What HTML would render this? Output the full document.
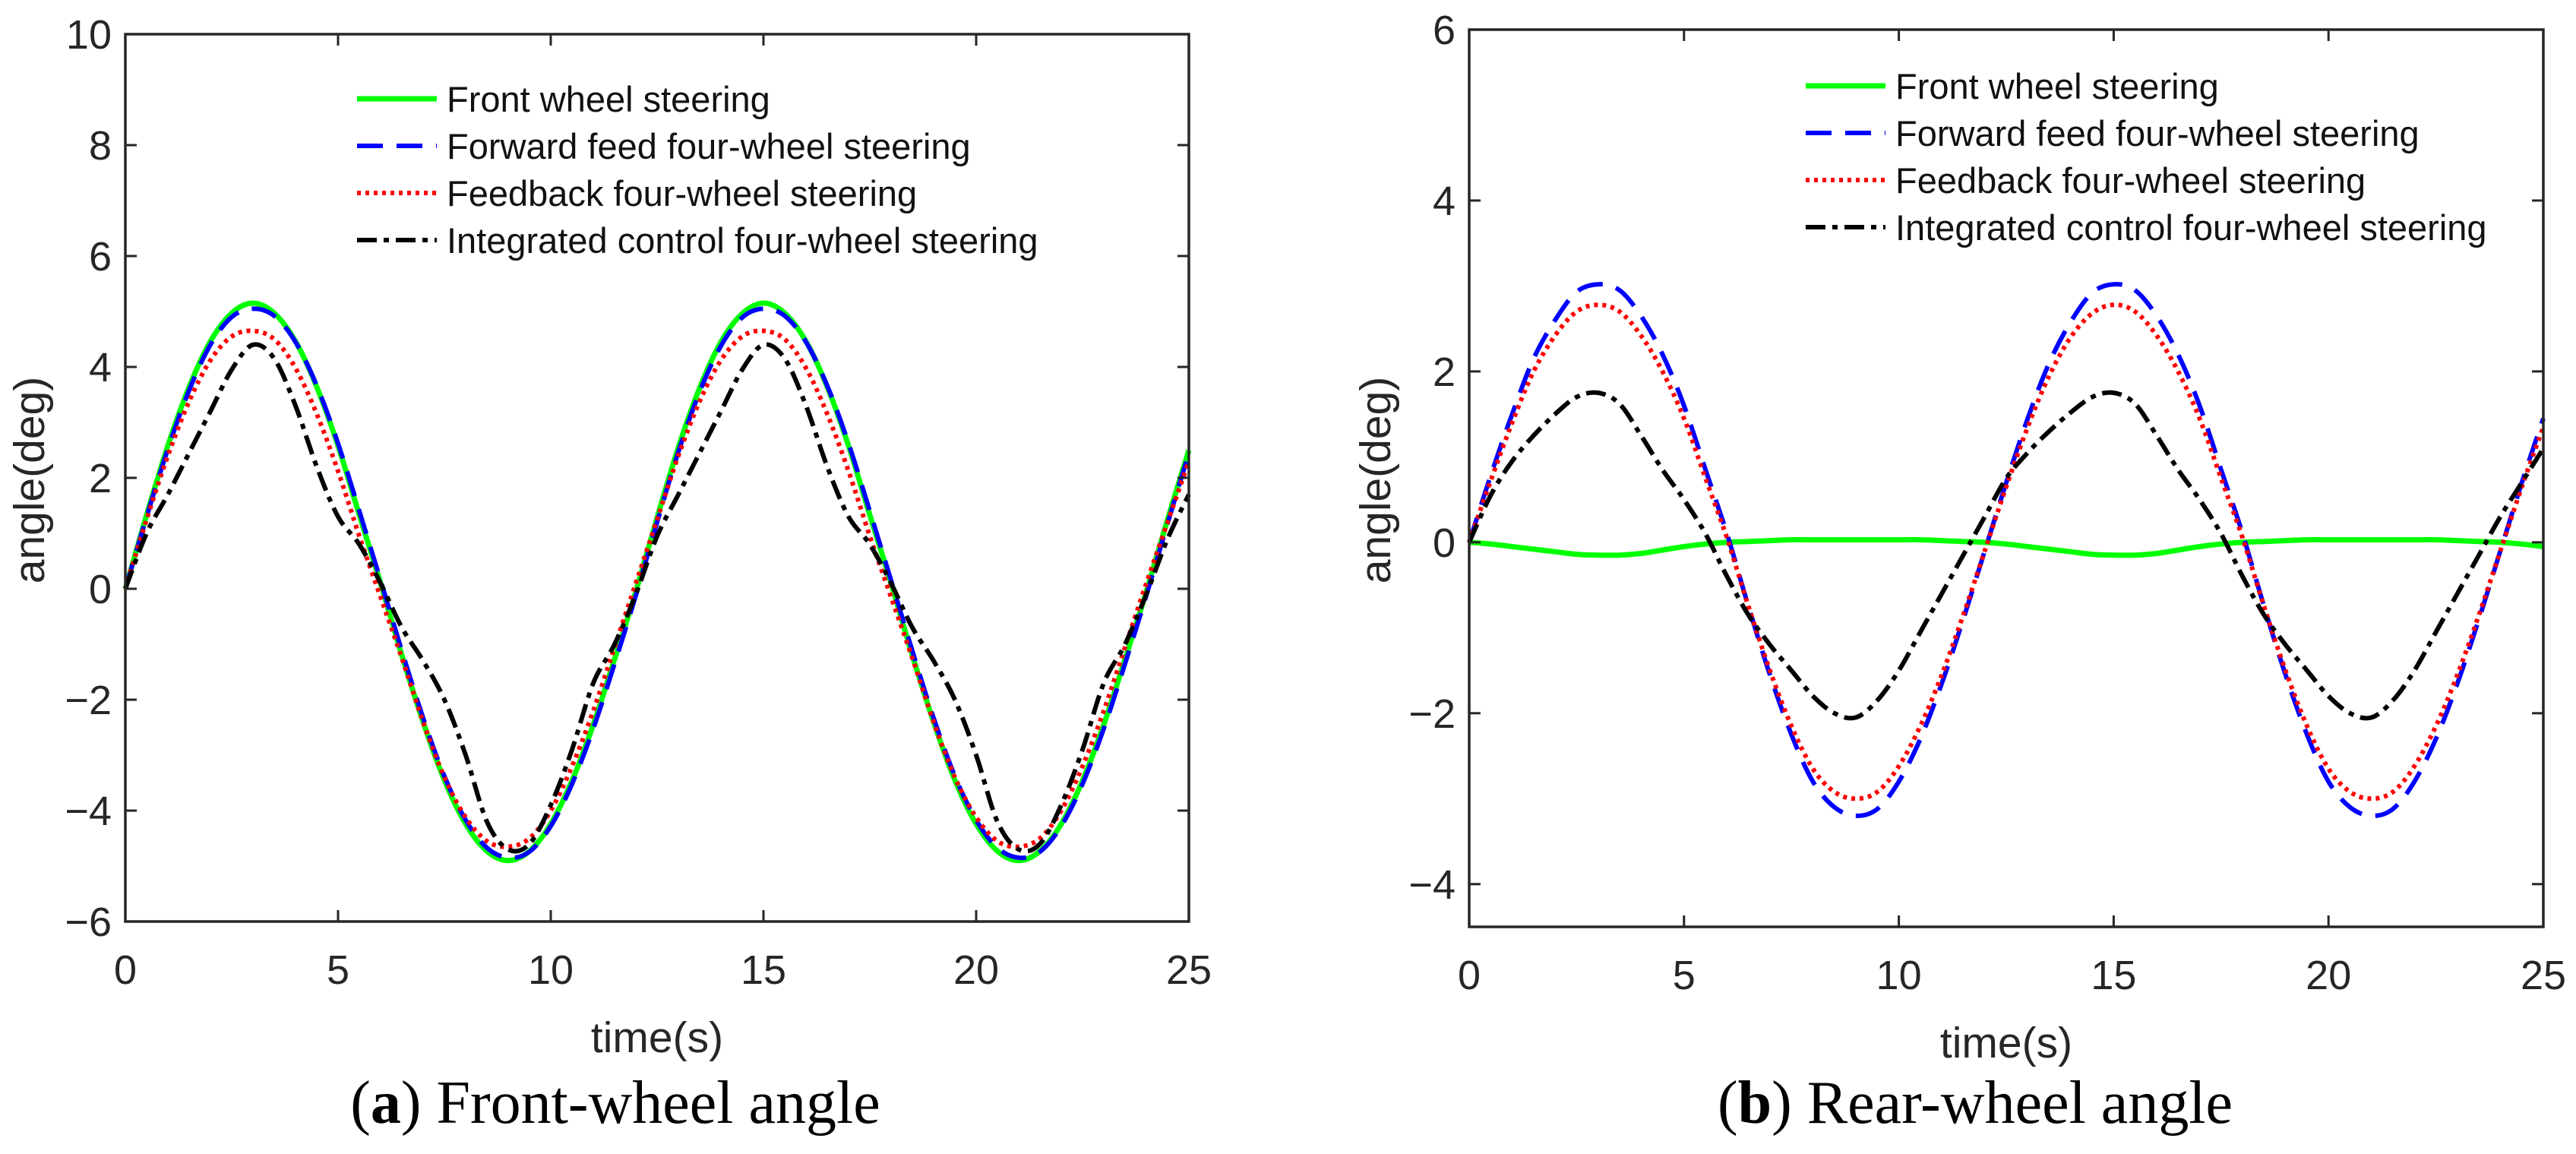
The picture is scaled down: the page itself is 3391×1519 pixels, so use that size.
<!DOCTYPE html>
<html><head><meta charset="utf-8"><style>
html,body{margin:0;padding:0;background:#fff;}
svg{display:block;}
</style></head><body>
<svg id="fig" width="3391" height="1519" viewBox="0 0 3391 1519" xmlns="http://www.w3.org/2000/svg">
<rect width="3391" height="1519" fill="#fff"/>
</svg>
<script>
const times = [];
for (let i = 0; i <= 50; i++) times.push(i * 0.5);
const xTicks = [0,5,10,15,20,25];
const yTicksA = [-6,-4,-2,0,2,4,6,8,10];
const yTicksB = [-4,-2,0,2,4,6];
const seriesNames = ["Front wheel steering","Forward feed four-wheel steering","Feedback four-wheel steering","Integrated control four-wheel steering"];
const frontA = [0,1.33,2.58,3.64,4.46,4.97,5.15,4.97,4.46,3.64,2.58,1.33,0.1,-1.2,-2.4,-3.45,-4.24,-4.73,-4.9,-4.73,-4.24,-3.46,-2.45,-1.27,-0.05,1.28,2.55,3.62,4.45,4.96,5.15,4.97,4.46,3.64,2.58,1.33,0.1,-1.2,-2.4,-3.45,-4.24,-4.73,-4.9,-4.73,-4.24,-3.46,-2.45,-1.27,-0.05,1.25,2.5];
const forwardA = [0,1.3,2.52,3.58,4.4,4.9,5.05,4.92,4.45,3.66,2.62,1.4,0.15,-1.12,-2.33,-3.38,-4.17,-4.67,-4.85,-4.74,-4.28,-3.52,-2.52,-1.35,-0.12,1.2,2.47,3.55,4.38,4.89,5.05,4.92,4.45,3.66,2.62,1.4,0.15,-1.12,-2.33,-3.38,-4.17,-4.67,-4.85,-4.74,-4.28,-3.52,-2.52,-1.35,-0.12,1.18,2.45];
const feedbackA = [0,1.25,2.4,3.38,4.12,4.55,4.65,4.5,3.98,3.15,2.12,0.95,-0.15,-1.25,-2.4,-3.4,-4.12,-4.55,-4.65,-4.5,-4.0,-3.2,-2.2,-1.05,0.1,1.25,2.4,3.38,4.12,4.55,4.65,4.5,3.98,3.15,2.12,0.95,-0.15,-1.25,-2.4,-3.4,-4.12,-4.55,-4.65,-4.5,-4.0,-3.2,-2.2,-1.05,0.1,1.2,2.3];
const integratedA = [0,1.0,1.7,2.45,3.2,3.95,4.4,4.15,3.3,2.2,1.3,0.8,0.1,-0.7,-1.3,-2.0,-3.0,-4.2,-4.7,-4.6,-3.9,-2.9,-1.7,-1.0,-0.1,0.95,1.7,2.45,3.2,3.95,4.4,4.15,3.3,2.2,1.3,0.8,0.1,-0.7,-1.3,-2.0,-3.0,-4.2,-4.7,-4.6,-3.9,-2.9,-1.7,-1.0,-0.1,0.9,1.7];
const frontB = [0,-0.02,-0.05,-0.08,-0.11,-0.14,-0.15,-0.15,-0.13,-0.09,-0.05,-0.02,0,0.01,0.02,0.03,0.03,0.03,0.03,0.03,0.03,0.03,0.02,0.01,0,-0.02,-0.05,-0.08,-0.11,-0.14,-0.15,-0.15,-0.13,-0.09,-0.05,-0.02,0,0.01,0.02,0.03,0.03,0.03,0.03,0.03,0.03,0.03,0.02,0.01,0,-0.02,-0.05];
const forwardB = [0,0.78,1.5,2.15,2.6,2.93,3.02,2.95,2.65,2.2,1.6,0.85,0.1,-0.75,-1.55,-2.25,-2.8,-3.1,-3.2,-3.12,-2.8,-2.3,-1.65,-0.9,-0.1,0.7,1.45,2.1,2.58,2.92,3.02,2.95,2.65,2.2,1.6,0.85,0.1,-0.75,-1.55,-2.25,-2.8,-3.1,-3.2,-3.12,-2.8,-2.3,-1.65,-0.9,-0.1,0.7,1.45];
const feedbackB = [0,0.72,1.4,2.0,2.42,2.7,2.78,2.7,2.42,2.0,1.45,0.75,0.05,-0.75,-1.5,-2.15,-2.65,-2.92,-3.0,-2.92,-2.62,-2.15,-1.55,-0.85,-0.1,0.65,1.35,1.95,2.4,2.68,2.78,2.7,2.42,2.0,1.45,0.75,0.05,-0.75,-1.5,-2.15,-2.65,-2.92,-3.0,-2.92,-2.62,-2.15,-1.55,-0.85,-0.1,0.65,1.35];
const integratedB = [0,0.55,0.95,1.25,1.5,1.7,1.75,1.62,1.25,0.85,0.5,0.1,-0.4,-0.85,-1.2,-1.5,-1.8,-2.0,-2.05,-1.85,-1.5,-1.05,-0.6,-0.15,0.3,0.75,1.05,1.3,1.52,1.7,1.75,1.62,1.25,0.85,0.5,0.1,-0.4,-0.85,-1.2,-1.5,-1.8,-2.0,-2.05,-1.85,-1.5,-1.05,-0.6,-0.15,0.3,0.7,1.1];

const NS = "http://www.w3.org/2000/svg";
const svg = document.getElementById('fig');
function mk(tag, attrs, parent) {
  const e = document.createElementNS(NS, tag);
  for (const k in attrs) e.setAttribute(k, attrs[k]);
  (parent || svg).appendChild(e);
  return e;
}
const styles = [
  {stroke:"#00ff00", w:7, dash:""},
  {stroke:"#0000ff", w:6, dash:"34 18"},
  {stroke:"#ff0000", w:6, dash:"5 6"},
  {stroke:"#000000", w:6, dash:"26 9 7 9"}
];
function smoothPath(pts) {
  let d = "M" + pts[0][0].toFixed(1) + "," + pts[0][1].toFixed(1);
  for (let i = 0; i < pts.length - 1; i++) {
    const p0 = pts[Math.max(0, i-1)], p1 = pts[i], p2 = pts[i+1], p3 = pts[Math.min(pts.length-1, i+2)];
    const c1x = p1[0] + (p2[0]-p0[0])/6, c1y = p1[1] + (p2[1]-p0[1])/6;
    const c2x = p2[0] - (p3[0]-p1[0])/6, c2y = p2[1] - (p3[1]-p1[1])/6;
    d += " C" + c1x.toFixed(1)+","+c1y.toFixed(1)+" "+c2x.toFixed(1)+","+c2y.toFixed(1)+" "+p2[0].toFixed(1)+","+p2[1].toFixed(1);
  }
  return d;
}
function drawPanel(cfg) {
  const g = mk('g', {});
  
  
  const X = v => cfg.x0 + (v - 0) / 25 * (cfg.x1 - cfg.x0);
  const Y = v => cfg.yTop + (cfg.yMax - v) / (cfg.yMax - cfg.yMin) * (cfg.yBot - cfg.yTop);
  cfg.series.forEach((arr, si) => {
    const pts = arr.map((v, i) => [X(times[i]), Y(v)]);
    const p = mk('path', {d: smoothPath(pts), fill:"none", stroke:styles[si].stroke, "stroke-width":styles[si].w, "stroke-dasharray":styles[si].dash, "stroke-linejoin":"round"}, g);
    
    
  });
  const box = mk('rect', {x:cfg.x0, y:cfg.yTop, width:cfg.x1-cfg.x0, height:cfg.yBot-cfg.yTop, fill:"none", stroke:"#262626", "stroke-width":3.5}, g);
  
  
  const tl = 15;
  xTicks.forEach(t => {
    const x = X(t);
    mk('line', {x1:x, x2:x, y1:cfg.yBot, y2:cfg.yBot-tl, stroke:"#262626","stroke-width":3}, g);
    mk('line', {x1:x, x2:x, y1:cfg.yTop, y2:cfg.yTop+tl, stroke:"#262626","stroke-width":3}, g);
    const tx = mk('text', {x:x, y:cfg.yBot+82, "text-anchor":"middle", "font-size":54, fill:"#262626"}, g);
    tx.textContent = t;
    
    
  });
  cfg.yTicks.forEach(t => {
    const y = Y(t);
    mk('line', {x1:cfg.x0, x2:cfg.x0+tl, y1:y, y2:y, stroke:"#262626","stroke-width":3}, g);
    mk('line', {x1:cfg.x1, x2:cfg.x1-tl, y1:y, y2:y, stroke:"#262626","stroke-width":3}, g);
    const ty = mk('text', {x:cfg.x0-18, y:y+19, "text-anchor":"end", "font-size":54, fill:"#262626"}, g);
    ty.textContent = t < 0 ? "\u2212" + Math.abs(t) : String(t);
    
    
  });
  const xl = mk('text', {x:(cfg.x0+cfg.x1)/2, y:cfg.yBot+172, "text-anchor":"middle", "font-size":57, fill:"#262626"}, g);
  xl.textContent = "time(s)";
  
  
  const yl = mk('text', {x:0, y:0, "text-anchor":"middle", "font-size":57, fill:"#262626", transform:"translate("+cfg.ylx+",632) rotate(-90)"}, g);
  yl.textContent = "angle(deg)";
  
  
  const lg = mk('g', {}, g);
  
  
  seriesNames.forEach((n, si) => {
    const y = cfg.legY + si * 62;
    mk('line', {x1:cfg.legX, x2:cfg.legX+105, y1:y, y2:y, stroke:styles[si].stroke, "stroke-width":styles[si].w, "stroke-dasharray":styles[si].dash}, lg);
    const t = mk('text', {x:cfg.legX+118, y:y+17, "font-size":47, fill:"#111"}, lg);
    t.textContent = n;
    
    
  });
  const cap = mk('text', {x:cfg.capX, y:1478, "text-anchor":"middle", "font-size":80, fill:"#000", "font-family":"'Liberation Serif', serif"}, g);
  cap.innerHTML = '(<tspan font-weight="bold">' + cfg.capL + '</tspan>) ' + cfg.capT;
  
  
}
svg.setAttribute('font-family', "'Liberation Sans', Arial, sans-serif");
drawPanel({name:"front-wheel-panel", x0:165, x1:1565, yTop:45, yBot:1213, yMin:-6, yMax:10, yTicks:yTicksA,
  series:[frontA, forwardA, feedbackA, integratedA], legX:470, legY:130, ylx:58, capX:810, capL:"a", capT:"Front-wheel angle"});
drawPanel({name:"rear-wheel-panel", x0:1934, x1:3348, yTop:39, yBot:1220, yMin:-4.5, yMax:6, yTicks:yTicksB,
  series:[frontB, forwardB, feedbackB, integratedB], legX:2377, legY:113, ylx:1830, capX:2600, capL:"b", capT:"Rear-wheel angle"});
</script>
</body></html>
